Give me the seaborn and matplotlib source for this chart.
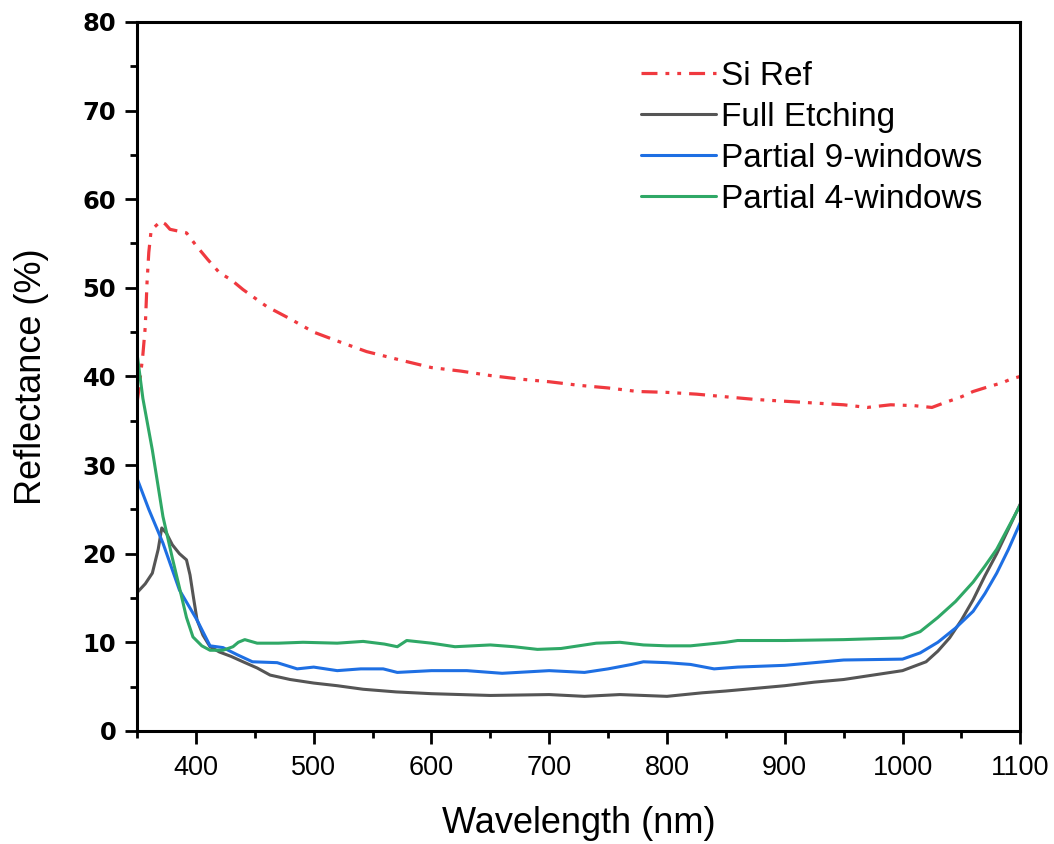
import matplotlib
matplotlib.use("Agg")
import matplotlib.pyplot as plt
import seaborn as sns
from matplotlib.ticker import MultipleLocator

# Reflectance spectra (wavelength in nm, reflectance in %)
si_ref_wl = [350, 352, 355, 357, 358.5, 360, 362, 366, 370, 374, 378, 385, 392, 400,
             410, 420, 430, 440, 460, 480, 500, 520, 545, 575, 600, 625, 650, 675,
             700, 725, 750, 775, 800, 825, 850, 875, 900, 925, 950, 970, 990, 1010,
             1025, 1035, 1050, 1060, 1072, 1085, 1092, 1100]
si_ref_r = [37.0, 39.0, 42.5, 45.6, 50.6, 54.0, 56.5, 57.0, 57.5, 57.2, 56.6, 56.4,
            56.2, 54.8, 53.2, 51.7, 50.9, 49.8, 47.9, 46.5, 45.0, 44.0, 42.8, 41.8,
            41.0, 40.6, 40.1, 39.7, 39.4, 39.0, 38.7, 38.3, 38.2, 38.0, 37.7, 37.4,
            37.2, 37.0, 36.8, 36.5, 36.8, 36.7, 36.5, 37.0, 37.7, 38.3, 38.8, 39.3,
            39.7, 40.0]

full_wl = [350, 357, 363, 368, 371, 375, 380, 386, 392, 395, 398, 401, 406, 412, 420,
           430, 440, 452, 463, 480, 500, 520, 542, 570, 600, 650, 700, 730, 760, 800,
           830, 850, 875, 900, 925, 950, 975, 1000, 1020, 1030, 1040, 1050, 1060,
           1070, 1080, 1090, 1100]
full_r = [15.6, 16.6, 17.8, 20.5, 22.9, 22.3, 21.0, 20.0, 19.3, 17.6, 15.0, 12.5,
          10.8, 9.5, 8.9, 8.4, 7.8, 7.1, 6.3, 5.8, 5.4, 5.1, 4.7, 4.4, 4.2, 4.0, 4.1,
          3.9, 4.1, 3.9, 4.3, 4.5, 4.8, 5.1, 5.5, 5.8, 6.3, 6.8, 7.8, 9.0, 10.5, 12.5,
          14.8, 17.5, 20.0, 22.8, 25.6]

p9_wl = [350, 360, 372, 386, 401, 412, 423, 435, 448, 469, 486, 500, 520, 540, 559,
         571, 600, 630, 660, 700, 730, 750, 770, 780, 800, 820, 840, 860, 880, 900,
         950, 1000, 1015, 1030, 1045, 1060, 1070, 1080, 1090, 1100]
p9_r = [28.5, 25.0, 21.2, 15.9, 12.5, 9.6, 9.4, 8.6, 7.8, 7.7, 7.0, 7.2, 6.8, 7.0,
        7.0, 6.6, 6.8, 6.8, 6.5, 6.8, 6.6, 7.0, 7.5, 7.8, 7.7, 7.5, 7.0, 7.2, 7.3,
        7.4, 8.0, 8.1, 8.8, 10.0, 11.6, 13.5, 15.5, 17.8, 20.5, 23.5]

p4_wl = [350, 355, 363, 372, 380, 386.5, 392, 397.5, 405, 412, 423, 431.5, 436,
         441.5, 452, 470, 491, 520, 542, 560, 571, 579, 600, 620, 650, 670, 690, 710,
         740, 760, 780, 800, 820, 850, 860, 900, 950, 1000, 1015, 1030, 1045, 1060,
         1070, 1080, 1090, 1100]
p4_r = [42.6, 37.5, 31.7, 24.2, 19.5, 15.9, 12.8, 10.6, 9.6, 9.1, 9.1, 9.5, 10.0,
        10.3, 9.9, 9.9, 10.0, 9.9, 10.1, 9.8, 9.5, 10.2, 9.9, 9.5, 9.7, 9.5, 9.2,
        9.3, 9.9, 10.0, 9.7, 9.6, 9.6, 10.0, 10.2, 10.2, 10.3, 10.5, 11.2, 12.8,
        14.6, 16.8, 18.6, 20.5, 23.0, 25.5]

labels = ["Si Ref", "Full Etching", "Partial 9-windows", "Partial 4-windows"]
x_ticks = [400, 500, 600, 700, 800, 900, 1000, 1100]
y_ticks = [0, 10, 20, 30, 40, 50, 60, 70, 80]

sns.set_theme(style="ticks")
plt.rcParams["font.family"] = ["Liberation Sans", "DejaVu Sans"]
plt.rcParams["text.color"] = "black"
plt.rcParams["axes.labelcolor"] = "black"

fig = plt.figure(figsize=(10.54, 8.44), dpi=100)
ax = fig.add_axes([0.130, 0.134, 0.838, 0.840])

sns.lineplot(x=si_ref_wl, y=si_ref_r, ax=ax, color="#f0393f", linewidth=2.3,
             linestyle=(0, (5, 2.5, 1.2, 2.5, 1.2, 2.5)), label=labels[0])
sns.lineplot(x=full_wl, y=full_r, ax=ax, color="#555555", linewidth=2.2,
             label=labels[1])
sns.lineplot(x=p9_wl, y=p9_r, ax=ax, color="#1e6fe3", linewidth=2.2,
             label=labels[2])
sns.lineplot(x=p4_wl, y=p4_r, ax=ax, color="#2fa866", linewidth=2.2,
             label=labels[3])

ax.set_xlim(350, 1100)
ax.set_ylim(0, 80)
ax.set_xticks(x_ticks)
ax.set_yticks(y_ticks)
ax.xaxis.set_minor_locator(MultipleLocator(50))
ax.yaxis.set_minor_locator(MultipleLocator(5))

for side in ["left", "bottom", "right", "top"]:
    ax.spines[side].set_visible(True)
    ax.spines[side].set_linewidth(2.2)
    ax.spines[side].set_color("black")

ax.tick_params(which="major", direction="out", length=9, width=2.0,
               colors="black", top=False, right=False)
ax.tick_params(which="minor", direction="out", length=5, width=2.0,
               colors="black", top=False, right=False)
ax.tick_params(axis="x", which="major", labelsize=19.5, pad=8)
ax.tick_params(axis="y", which="major", labelsize=17.5, pad=6)
for lab in ax.get_yticklabels():
    lab.set_fontweight("bold")
    lab.set_family("DejaVu Sans")

ax.set_xlabel("Wavelength (nm)", fontsize=26, labelpad=18)
ax.set_ylabel("Reflectance (%)", fontsize=26, labelpad=24)

leg = ax.legend(loc="upper left", bbox_to_anchor=(0.556, 0.964), frameon=False,
                fontsize=24, handlelength=2.25, handletextpad=0.15,
                labelspacing=0.3, borderaxespad=0)
for t in leg.get_texts():
    t.set_color("black")

fig.savefig("out.png", dpi=100)
